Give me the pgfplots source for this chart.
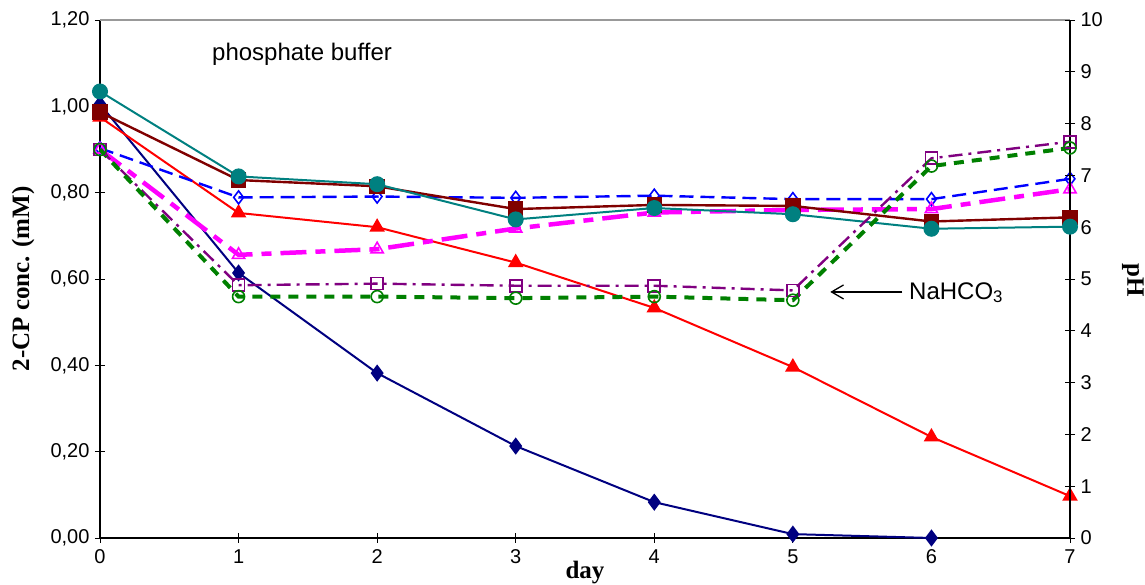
\documentclass[border=0pt]{standalone}
\usepackage{fontspec}
\setmainfont{Liberation Sans}
\newfontfamily\tnr{Liberation Serif}
\usepackage{pgfplots}
\pgfplotsset{compat=1.18}
\usetikzlibrary{arrows.meta}
\definecolor{cnavy}{RGB}{0,0,128}
\definecolor{cred}{RGB}{255,0,0}
\definecolor{cmaroon}{RGB}{128,0,0}
\definecolor{cteal}{RGB}{0,128,128}
\definecolor{cblue}{RGB}{0,0,255}
\definecolor{cmag}{RGB}{255,0,255}
\definecolor{cpurple}{RGB}{128,0,128}
\definecolor{cgreen}{RGB}{0,128,0}
\begin{document}
\begin{tikzpicture}[x=1pt,y=1pt]
\useasboundingbox (-100,-47) rectangle (1045,538);
\pgfplotsset{common/.style={scale only axis, width=970pt, height=518pt, at={(0,0)}, anchor=south west,
  xmin=0, xmax=7, tick align=center, major tick length=10pt, clip=false,
  axis line style={-, line width=1.2pt}, tick style={line width=0.8pt, black},
  ticklabel style={font=\fontsize{20}{22}\selectfont},
  /pgf/number format/assume math mode=true}}
\begin{axis}[common,
  axis x line*=bottom, axis y line*=left,
  ymin=0, ymax=1.2, ytick={0,0.2,0.4,0.6,0.8,1.0,1.2}, xtick={0,1,...,7},
  yticklabel style={/pgf/number format/fixed, /pgf/number format/fixed zerofill, /pgf/number format/precision=2, /pgf/number format/use comma, xshift=-2pt},
  xticklabel style={yshift=-3pt}]
\draw[gray!80, line width=1.2pt] (rel axis cs:0,1) -- (rel axis cs:1,1);
% 2-CP concentrations
\addplot[cnavy, line width=2pt, mark=diamond*, mark size=7pt, mark options={solid}] coordinates
 {(0,1.005) (1,0.614) (2,0.382) (3,0.213) (4,0.083) (5,0.009) (6,0.0)};
\addplot[cred, line width=2pt, mark=triangle*, mark size=7pt, mark options={solid}] coordinates
 {(0,0.975) (1,0.753) (2,0.720) (3,0.638) (4,0.533) (5,0.396) (6,0.234) (7,0.097)};
\addplot[cblue, line width=2.4pt, dash pattern=on 14pt off 7pt, mark=diamond, mark size=6.5pt, mark options={solid, fill=white, line width=1.6pt}] coordinates
 {(0,0.903) (1,0.789) (2,0.791) (3,0.788) (4,0.793) (5,0.785) (6,0.785) (7,0.832)};
\addplot[cmag, line width=4.5pt, dash pattern=on 26pt off 9pt on 10pt off 9pt, mark=triangle, mark size=7pt, mark options={solid, fill=white, line width=1.6pt}] coordinates
 {(0,0.900) (1,0.656) (2,0.669) (3,0.717) (4,0.754) (5,0.760) (6,0.762) (7,0.808)};
\node[anchor=base west, font=\fontsize{24}{28}\selectfont, inner sep=0pt] at (axis cs:0.808,1.107) {phosphate buffer};
\node[anchor=base west, font=\fontsize{24}{28}\selectfont, inner sep=0pt] at (axis cs:5.838,0.5536) {NaHCO\textsubscript{3}};
\draw[-{Straight Barb[length=12pt,width=14pt]}, line width=1.3pt] (axis cs:5.79,0.57) -- (axis cs:5.27,0.57);
\end{axis}
\begin{axis}[common,
  axis y line*=right, axis x line=none,
  ymin=0, ymax=10, ytick={0,1,...,10}, yticklabel style={xshift=2pt}]
% pH
\addplot[cmaroon, line width=2.4pt, mark=square*, mark size=6.5pt, mark options={solid}] coordinates
 {(0,8.22) (1,6.91) (2,6.79) (3,6.35) (4,6.43) (5,6.41) (6,6.11) (7,6.19)};
\addplot[cteal, line width=2pt, mark=*, mark size=7pt, mark options={solid}] coordinates
 {(0,8.62) (1,6.98) (2,6.83) (3,6.15) (4,6.37) (5,6.25) (6,5.97) (7,6.01)};
\addplot[cpurple, line width=2.4pt, dash pattern=on 14pt off 6pt on 3pt off 6pt, mark=square, mark size=6pt, mark options={solid, fill=white, line width=1.6pt}] coordinates
 {(0,7.50) (1,4.88) (2,4.91) (3,4.87) (4,4.87) (5,4.78) (6,7.33) (7,7.65)};
\addplot[cgreen, line width=4pt, dash pattern=on 10pt off 8pt, mark=o, mark size=6pt, mark options={solid, fill=white, line width=1.6pt}] coordinates
 {(0,7.50) (1,4.66) (2,4.66) (3,4.63) (4,4.66) (5,4.59) (6,7.18) (7,7.53)};
\end{axis}
\node[rotate=90, font=\tnr\bfseries\fontsize{25}{28}\selectfont] at (-77,259) {2-CP conc. (mM)};
\node[rotate=-90, font=\tnr\bfseries\fontsize{25}{28}\selectfont] at (1033,258) {pH};
\node[anchor=base, font=\tnr\bfseries\fontsize{25}{28}\selectfont] at (485,-41) {day};
\end{tikzpicture}
\end{document}
